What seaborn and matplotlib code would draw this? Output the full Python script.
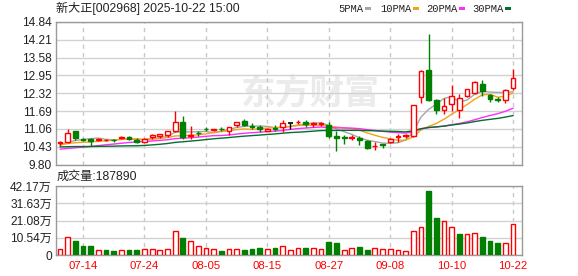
import numpy as np
import pandas as pd
import matplotlib
matplotlib.use("Agg")
import matplotlib.pyplot as plt
import seaborn as sns
from matplotlib.patches import Rectangle

# ---------------- data ----------------
dates = ["07-09", "07-10", "07-11", "07-14", "07-15", "07-16", "07-17", "07-18", "07-21", "07-22",
         "07-23", "07-24", "07-25", "07-28", "07-29", "07-30", "07-31", "08-01", "08-04", "08-05",
         "08-06", "08-07", "08-08", "08-11", "08-12", "08-13", "08-14", "08-15", "08-18", "08-19",
         "08-20", "08-21", "08-22", "08-25", "08-26", "08-27", "08-28", "08-29", "09-01", "09-02",
         "09-03", "09-04", "09-05", "09-08", "09-09", "09-10", "09-11", "09-26", "09-29", "09-30",
         "10-09", "10-10", "10-13", "10-14", "10-15", "10-16", "10-17", "10-20", "10-21", "10-22"]

opens = [10.55, 10.59, 10.97, 10.69, 10.71, 10.65, 10.66, 10.67, 10.73, 10.76,
         10.65, 10.58, 10.78, 10.82, 10.86, 10.97, 11.30, 10.80, 10.92, 11.06,
         11.03, 11.06, 11.00, 11.21, 11.35, 11.17, 11.12, 11.00, 11.10, 11.12,
         11.27, 11.30, 11.30, 11.22, 11.25, 11.20, 10.82, 10.77, 10.74, 10.75,
         10.63, 10.45, 10.52, 10.61, 10.77, 10.81, 10.82, 12.18, 13.15, 12.08,
         11.74, 11.93, 11.73, 12.24, 12.33, 12.64, 12.27, 12.12, 12.07, 12.50]
highs = [10.62, 11.06, 11.00, 10.72, 10.73, 10.73, 10.70, 10.70, 10.80, 10.80,
         10.74, 10.74, 10.88, 10.89, 10.99, 11.70, 11.50, 11.16, 10.99, 11.12,
         11.07, 11.12, 11.13, 11.31, 11.41, 11.27, 11.18, 11.09, 11.21, 11.38,
         11.28, 11.38, 11.38, 11.32, 11.32, 11.32, 11.00, 10.85, 10.85, 10.80,
         10.68, 10.61, 10.53, 10.75, 10.87, 10.87, 11.92, 13.13, 14.42, 12.10,
         12.16, 12.61, 12.28, 12.46, 12.77, 12.79, 12.30, 12.18, 12.47, 13.18]
lows = [10.47, 10.56, 10.65, 10.64, 10.47, 10.63, 10.64, 10.60, 10.70, 10.65,
        10.55, 10.57, 10.71, 10.73, 10.79, 10.94, 10.71, 10.70, 10.82, 10.98,
        10.98, 10.98, 10.86, 11.12, 11.15, 11.04, 10.94, 10.98, 10.98, 10.94,
        11.06, 11.25, 11.14, 11.14, 11.16, 10.75, 10.26, 10.53, 10.65, 10.49,
        10.35, 10.33, 10.37, 10.56, 10.61, 10.75, 10.76, 11.97, 12.04, 11.59,
        11.58, 11.68, 11.44, 12.19, 12.29, 12.24, 12.00, 12.00, 11.97, 12.42]
closes = [10.61, 10.92, 10.74, 10.67, 10.64, 10.71, 10.68, 10.66, 10.76, 10.71,
          10.58, 10.71, 10.85, 10.87, 10.98, 11.30, 10.77, 10.84, 10.90, 11.04,
          11.06, 11.04, 11.12, 11.30, 11.21, 11.11, 11.05, 11.07, 11.06, 11.26,
          11.27, 11.32, 11.24, 11.26, 11.27, 10.80, 10.72, 10.75, 10.78, 10.68,
          10.37, 10.47, 10.50, 10.71, 10.80, 10.84, 11.92, 13.11, 12.09, 11.71,
          11.86, 12.24, 12.14, 12.46, 12.71, 12.40, 12.10, 12.08, 12.45, 12.85]
# volume in units of 万 (10k)
volumes_wan = [3.7, 11.0, 8.6, 5.5, 5.5, 3.1, 3.1, 2.5, 2.9, 3.1,
               3.1, 3.5, 3.5, 2.9, 3.5, 14.7, 10.4, 8.4, 5.3, 4.3,
               3.5, 2.5, 3.5, 3.5, 3.1, 3.7, 4.3, 3.5, 4.3, 5.3,
               3.1, 4.1, 4.3, 4.1, 3.7, 8.0, 7.4, 2.9, 4.1, 4.9,
               3.1, 4.1, 3.5, 3.5, 2.9, 2.3, 14.5, 17.0, 39.3, 22.7,
               20.7, 17.0, 12.9, 12.9, 13.5, 11.0, 8.6, 7.4, 7.4, 18.789]
# closes before the visible window (needed for the moving averages at the left edge)
prior_closes = [10.62, 10.60, 10.65, 10.58, 10.55, 10.60, 10.57, 10.52, 10.58, 10.53,
                10.35, 10.28, 10.22, 10.15, 10.12, 10.10, 10.14, 10.18, 10.16, 10.20,
                10.40, 10.46, 10.50, 10.52, 10.52, 10.48, 10.45, 10.48, 10.48]

price_ticks = [9.80, 10.43, 11.06, 11.69, 12.32, 12.95, 13.58, 14.21, 14.84]
vol_ticks = [0, 10.54, 21.08, 31.63, 42.17]
vol_tick_labels = ["0", "10.54万", "21.08万", "31.63万", "42.17万"]
date_tick_idx = [3, 11, 19, 27, 35, 43, 51, 59]
ma_periods = [5, 10, 20, 30]
ma_names = ["5PMA", "10PMA", "20PMA", "30PMA"]
ma_colors = ["#a6a6a6", "#f2a317", "#ff2bff", "#00702d"]
title = "新大正[002968] 2025-10-22 15:00"
vol_title = "成交量:187890"

# ---------------- style ----------------
sns.set_style("white")
plt.rcParams["font.family"] = ["Liberation Sans", "Noto Sans CJK SC", "DejaVu Sans"]

RED = "#ff0000"
GREEN = "#007f00"
FRAME = "#9a9a9a"
GRID = "#d2d2d2"
TXT = "#222222"

W, H = 578, 276
fig = plt.figure(figsize=(W / 100, H / 100), dpi=100)


def rect(l, t, r, b):
    return [l / W, 1 - b / H, (r - l) / W, (b - t) / H]


ax = fig.add_axes(rect(56, 22, 522, 164.5))
axv = fig.add_axes(rect(56, 186, 522, 255))

n = len(closes)
idx = np.arange(n)
XL = (-0.52, 60.16)

# watermark
ax.text(310 / W, 1 - 93 / H, "东方财富", transform=fig.transFigure, fontsize=25,
        fontweight="bold", color="#ebebeb", ha="center", va="center",
        family=["Noto Sans CJK SC"], zorder=0)

# moving averages
all_c = pd.Series(prior_closes + closes)
for p, col in zip(ma_periods, ma_colors):
    ma = all_c.rolling(p).mean().iloc[len(prior_closes):].to_numpy()
    sns.lineplot(x=idx, y=ma, ax=ax, color=col, lw=1, legend=False, zorder=3)

# candles
bw = 0.62
for i in range(n):
    o, h, l, c = opens[i], highs[i], lows[i], closes[i]
    if c > o:
        col, face = RED, "white"
    elif c < o:
        col, face = GREEN, GREEN
    else:
        col, face = "black", "black"
    ax.vlines(i, l, h, color=col, lw=1, zorder=4)
    if c == o:
        ax.hlines(c, i - bw / 2, i + bw / 2, color=col, lw=1.2, zorder=5)
    else:
        ax.add_patch(Rectangle((i - bw / 2, min(o, c)), bw, max(abs(c - o), 0.02),
                               facecolor=face, edgecolor=col, lw=1, zorder=5))

ax.set_xlim(*XL)
ax.set_ylim(price_ticks[0], price_ticks[-1])
ax.set_yticks(price_ticks)
ax.set_yticklabels([f"{v:.2f}" for v in price_ticks])
ax.set_xticks(date_tick_idx)
ax.set_xticklabels([])
ax.set_xlabel("")
ax.set_ylabel("")
ax.grid(axis="y", color=GRID, lw=1, zorder=0)
for t in date_tick_idx:
    ax.axvline(t, color="#c8c8c8", ls=(0, (3, 3)), lw=1, zorder=0)

# volume
prev = [prior_closes[-1]] + closes[:-1]
up = [c >= pc for c, pc in zip(closes, prev)]
vdf = pd.DataFrame({"i": idx, "vol": volumes_wan})
sns.barplot(data=vdf, x="i", y="vol", ax=axv, native_scale=True, width=0.62,
            saturation=1, color=RED, errorbar=None, zorder=3)
for patch, u in zip(axv.patches, up):
    if u:
        patch.set_facecolor("white")
        patch.set_edgecolor(RED)
    else:
        patch.set_facecolor(GREEN)
        patch.set_edgecolor(GREEN)
    patch.set_linewidth(1)

axv.set_xlim(*XL)
axv.set_ylim(0, vol_ticks[-1])
axv.set_yticks(vol_ticks)
axv.set_yticklabels(vol_tick_labels)
axv.set_xticks(date_tick_idx)
axv.set_xticklabels([dates[i] for i in date_tick_idx])
axv.set_xlabel("")
axv.set_ylabel("")
axv.grid(axis="y", color=GRID, lw=1, zorder=0)
for t in date_tick_idx:
    axv.axvline(t, color="#c8c8c8", ls=(0, (3, 3)), lw=1, zorder=0)

for a in (ax, axv):
    a.tick_params(axis="both", length=0, labelsize=8.6, labelcolor=TXT, pad=3)
    a.tick_params(axis="x", labelcolor=RED, labelsize=8.2, pad=4)
    for s in a.spines.values():
        s.set_visible(True)
        s.set_color(FRAME)
        s.set_linewidth(1)

# titles
fig.text(56 / W, 1 - 8.5 / H, title, ha="left", va="center", fontsize=8.7, color=TXT)
fig.text(57 / W, 1 - 177 / H, vol_title, ha="left", va="center", fontsize=8.7, color=TXT)

# legend
leg_x = [338, 380, 426, 472]
for x0, name in zip(leg_x, ma_names):
    fig.text(x0 / W, 1 - 8.5 / H, name, ha="left", va="center", fontsize=7.6,
             color=TXT, family=["Liberation Mono", "DejaVu Sans Mono"])
leg_dash = [365, 413, 459, 505]
for x0, col in zip(leg_dash, ma_colors):
    fig.add_artist(Rectangle((x0 / W, 1 - 10 / H), 6 / W, 3 / H, transform=fig.transFigure,
                             facecolor=col, edgecolor="none"))

fig.savefig("out.png", dpi=100)
